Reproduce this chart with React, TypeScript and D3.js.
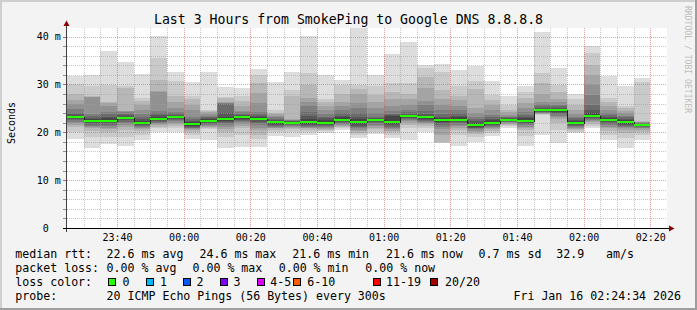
import React from "react";
import * as d3 from "d3";

// ---------- data ----------
const barStarts = [
  "23:25", "23:30", "23:35", "23:40", "23:45", "23:50", "23:55",
  "00:00", "00:05", "00:10", "00:15", "00:20", "00:25", "00:30",
  "00:35", "00:40", "00:45", "00:50", "00:55", "01:00", "01:05",
  "01:10", "01:15", "01:20", "01:25", "01:30", "01:35", "01:40",
  "01:45", "01:50", "01:55", "02:00", "02:05", "02:10", "02:15",
];

const medians = [
  23.2, 22.4, 22.4, 23.0, 22.0, 22.8, 23.2, 21.7, 22.4, 22.7, 23.1, 22.8,
  22.1, 22.0, 22.1, 22.0, 22.6, 22.1, 22.6, 22.1, 23.4, 23.1, 22.6, 22.6,
  21.6, 22.0, 22.6, 22.4, 24.6, 24.6, 22.0, 23.4, 22.6, 22.1, 21.6,
];

// 20 sorted ping RTTs (ms) per 5-minute step
const pings = [
  [18.5, 20.0, 21.2, 21.6, 21.9, 22.2, 22.5, 22.8, 23.0, 23.1, 23.3, 23.5, 23.8, 24.1, 24.9, 25.9, 26.8, 28.0, 30.1, 31.8],
  [16.8, 19.0, 20.2, 20.8, 21.1, 21.3, 21.6, 21.9, 22.1, 22.3, 22.5, 22.7, 23.0, 23.5, 23.8, 27.3, 27.4, 27.5, 29.7, 32.0],
  [17.5, 19.0, 20.0, 20.6, 21.0, 21.3, 21.6, 21.9, 22.1, 22.3, 22.6, 22.9, 23.3, 23.8, 24.3, 25.5, 26.1, 26.3, 29.9, 36.9],
  [17.1, 19.0, 20.4, 21.2, 21.6, 21.9, 22.2, 22.5, 22.7, 22.9, 23.1, 23.3, 23.6, 23.9, 24.2, 24.4, 24.5, 29.3, 29.7, 34.6],
  [18.4, 19.5, 20.2, 20.6, 20.9, 21.1, 21.3, 21.5, 21.7, 21.9, 22.1, 22.4, 22.8, 23.3, 23.8, 24.6, 25.7, 26.5, 27.2, 32.2],
  [20.1, 20.8, 21.2, 21.5, 21.7, 21.9, 22.1, 22.3, 22.5, 22.7, 22.9, 23.2, 23.6, 24.0, 24.5, 28.4, 28.6, 31.0, 35.6, 40.1],
  [20.1, 20.8, 21.3, 21.7, 22.0, 22.3, 22.5, 22.7, 22.9, 23.1, 23.3, 23.5, 23.7, 24.0, 24.3, 25.0, 26.4, 27.6, 30.8, 32.6],
  [18.6, 19.4, 20.0, 20.4, 20.6, 20.8, 21.0, 21.2, 21.4, 21.6, 21.8, 22.1, 22.4, 22.8, 23.3, 24.7, 25.7, 26.9, 27.6, 30.6],
  [18.4, 20.6, 20.9, 21.1, 21.3, 21.5, 21.7, 21.9, 22.1, 22.3, 22.5, 22.8, 23.0, 23.2, 23.5, 23.8, 24.2, 24.5, 24.6, 32.5],
  [16.8, 19.0, 20.1, 20.7, 21.2, 21.6, 22.0, 22.2, 22.4, 22.6, 22.8, 23.3, 24.0, 26.0, 26.1, 26.2, 26.4, 27.2, 27.4, 29.5],
  [17.0, 19.5, 20.8, 21.4, 21.8, 22.1, 22.4, 22.6, 22.8, 23.0, 23.2, 23.4, 23.6, 23.9, 24.2, 24.5, 25.5, 26.6, 27.6, 29.3],
  [17.0, 18.5, 19.4, 20.4, 21.0, 21.5, 21.9, 22.2, 22.5, 22.7, 22.9, 23.2, 23.5, 23.9, 24.3, 26.1, 28.2, 30.3, 32.0, 33.2],
  [19.3, 20.1, 20.5, 20.8, 21.0, 21.2, 21.4, 21.6, 21.8, 22.0, 22.2, 22.3, 22.5, 22.8, 23.1, 23.4, 23.8, 24.1, 24.6, 30.5],
  [19.1, 20.0, 20.6, 20.9, 21.1, 21.3, 21.5, 21.7, 21.8, 21.9, 22.1, 22.2, 22.3, 22.4, 22.5, 22.6, 22.8, 27.6, 28.8, 32.6],
  [19.4, 20.0, 20.5, 20.8, 21.0, 21.2, 21.4, 21.6, 21.8, 22.0, 22.3, 22.8, 23.4, 24.3, 25.4, 26.4, 27.2, 29.9, 32.3, 40.1],
  [19.8, 20.2, 20.5, 20.7, 20.9, 21.1, 21.3, 21.5, 21.7, 21.9, 22.2, 22.6, 22.9, 23.3, 23.8, 24.6, 25.4, 26.4, 26.9, 32.0],
  [20.4, 20.8, 21.1, 21.3, 21.5, 21.7, 21.9, 22.1, 22.3, 22.5, 22.7, 23.1, 23.5, 24.0, 24.6, 25.4, 26.4, 28.0, 29.9, 30.9],
  [18.9, 19.5, 19.9, 20.2, 20.5, 20.8, 21.1, 21.4, 21.7, 22.0, 22.3, 22.7, 23.2, 24.0, 25.0, 26.1, 28.0, 29.0, 29.9, 41.8],
  [19.6, 20.1, 20.6, 21.0, 21.3, 21.6, 21.9, 22.1, 22.3, 22.5, 22.7, 22.8, 23.0, 23.2, 24.0, 25.0, 26.4, 27.9, 29.6, 32.0],
  [18.8, 19.5, 20.0, 20.3, 20.6, 20.9, 21.2, 21.5, 21.7, 21.9, 22.3, 23.5, 23.7, 23.8, 24.5, 25.5, 27.0, 28.5, 30.4, 36.4],
  [18.4, 21.0, 21.6, 22.0, 22.3, 22.5, 22.7, 22.9, 23.1, 23.3, 23.5, 23.7, 23.9, 24.2, 24.7, 25.8, 26.9, 28.0, 30.4, 38.9],
  [20.0, 20.8, 21.4, 21.7, 22.0, 22.2, 22.4, 22.6, 22.8, 23.0, 23.2, 23.5, 23.9, 24.5, 25.7, 26.6, 29.2, 31.6, 33.4, 34.1],
  [17.7, 17.8, 18.0, 19.5, 20.6, 21.2, 21.6, 21.9, 22.2, 22.5, 22.7, 23.0, 23.3, 23.8, 24.6, 25.7, 27.0, 28.8, 32.7, 34.3],
  [17.2, 19.5, 20.5, 21.0, 21.3, 21.6, 21.9, 22.1, 22.3, 22.5, 22.7, 23.1, 23.5, 24.0, 24.6, 25.4, 26.8, 27.5, 29.7, 33.0],
  [18.0, 19.0, 19.6, 20.0, 20.3, 20.6, 20.8, 21.0, 21.2, 21.5, 21.7, 22.0, 22.3, 22.7, 23.2, 24.0, 25.0, 29.0, 30.8, 33.9],
  [19.2, 19.8, 20.3, 20.6, 20.9, 21.1, 21.3, 21.5, 21.7, 21.9, 22.1, 22.5, 22.8, 23.2, 23.6, 24.6, 25.7, 26.8, 27.9, 30.7],
  [21.0, 21.3, 21.6, 21.8, 22.0, 22.1, 22.2, 22.3, 22.4, 22.5, 22.7, 22.8, 22.9, 23.1, 23.3, 23.6, 24.2, 24.7, 25.8, 27.5],
  [17.1, 19.2, 20.4, 20.9, 21.2, 21.5, 21.7, 21.9, 22.1, 22.3, 22.5, 22.9, 23.2, 23.6, 24.2, 25.0, 26.1, 27.2, 28.5, 29.6],
  [19.4, 23.6, 23.8, 23.9, 24.0, 24.1, 24.2, 24.3, 24.4, 24.5, 24.7, 24.9, 25.1, 25.4, 25.9, 26.4, 28.0, 30.3, 32.4, 41.0],
  [17.7, 20.5, 22.0, 22.8, 23.2, 23.5, 23.8, 24.1, 24.3, 24.5, 24.7, 24.9, 25.1, 25.4, 25.8, 26.4, 27.0, 28.5, 29.9, 33.5],
  [19.8, 20.1, 20.4, 20.7, 20.9, 21.1, 21.3, 21.5, 21.7, 21.9, 22.1, 22.4, 22.6, 22.9, 23.2, 23.8, 24.6, 25.7, 27.0, 28.0],
  [21.0, 21.4, 21.8, 22.1, 22.3, 22.5, 22.7, 22.9, 23.1, 23.3, 23.6, 24.0, 24.6, 25.7, 27.9, 29.9, 32.0, 34.1, 36.6, 38.1],
  [18.3, 19.5, 20.3, 20.8, 21.2, 21.5, 21.8, 22.1, 22.3, 22.5, 22.7, 23.0, 23.3, 23.6, 24.0, 24.6, 25.4, 26.4, 27.1, 31.8],
  [16.8, 18.8, 19.8, 20.4, 20.8, 21.1, 21.4, 21.6, 21.8, 22.0, 22.3, 22.5, 22.8, 23.1, 23.5, 24.0, 24.5, 25.0, 25.5, 29.6],
  [18.4, 19.5, 20.1, 20.5, 20.8, 21.0, 21.2, 21.3, 21.4, 21.5, 21.6, 21.7, 21.8, 21.9, 22.0, 22.1, 22.2, 22.4, 30.6, 31.4],
];

const xTickLabels = ["23:40", "00:00", "00:20", "00:40", "01:00", "01:20", "01:40", "02:00", "02:20"];
const yTickValues = [0, 10, 20, 30, 40];
const yTickLabels = ["0  ", "10 m", "20 m", "30 m", "40 m"];

const lossLabels = ["0", "1", "2", "3", "4-5", "6-10", "11-19", "20/20"];
const lossColors = ["#26ff00", "#00b8ff", "#0059ff", "#7e00ff", "#dd00ff", "#ff5e00", "#ff0000", "#a00000"];

const titleText = "Last 3 Hours from SmokePing to Google DNS 8.8.8.8";
const rttLegend = ["median rtt:", "22.6 ms avg", "24.6 ms max", "21.6 ms min", "21.6 ms now", "0.7 ms sd", "32.9", "am/s"];
const lossLegend = ["packet loss:", "0.00 % avg", "0.00 % max", "0.00 % min", "0.00 % now"];
const probeLegend = ["probe:", "20 ICMP Echo Pings (56 Bytes) every 300s"];
const stampText = "Fri Jan 16 02:24:34 2026";

// ---------- layout ----------
const W = 697, H = 310;
const X0 = 67, X1 = 667, Y0 = 228, Y1 = 28;
const Y_MAX = 41.8;
const rttX = [16, 107.3, 200.2, 293, 386.7, 479.3, 557, 606.7];
const lossX = [16, 107.3, 193.2, 279.4, 366];
const boxX = [108.3, 145.7, 182.7, 219.7, 256.7, 293.3, 372.7, 430];
const boxLabelX = [123.3, 160.7, 197.3, 234.3, 271, 308, 386.7, 445.7];
const smokeGray = [221, 202, 183, 164, 145, 126, 107, 88, 69, 50];

function toDate(s: string): Date {
  const [h, m] = s.split(":").map(Number);
  return new Date(2026, 0, h >= 12 ? 15 : 16, h, m);
}

const FONT = "'DejaVu Sans Mono', monospace";

export default function App() {
  const tStart = new Date(2026, 0, 15, 23, 25);
  const tEnd = new Date(2026, 0, 16, 2, 25);
  const x = d3.scaleTime().domain([tStart, tEnd]).range([X0, X1]);
  const y = d3.scaleLinear().domain([0, Y_MAX]).range([Y0, Y1]);

  const starts = barStarts.map(toDate);
  const ends = starts.map((d) => d3.timeMinute.offset(d, 5));

  const minorV = d3.timeMinute.every(5)!.range(d3.timeMinute.offset(tStart, 5), tEnd)
    .filter((d) => d.getMinutes() % 20 !== 0);
  const majorV = d3.timeMinute.every(20)!.range(tStart, tEnd);

  const minorH = d3.range(2, 41, 2).filter((v) => v % 10 !== 0);
  const majorH = yTickValues.filter((v) => v > 0);

  const medianPts: [Date, number][] = starts.map((d, i) => [d, medians[i]]);
  medianPts.push([ends[ends.length - 1], medians[medians.length - 1]]);
  const stepLine = d3.line<[Date, number]>()
    .x((d) => Math.round(x(d[0])))
    .y((d) => Math.round(y(d[1])) + 0.5)
    .curve(d3.curveStepAfter);

  const px = (v: number) => Math.round(v);

  return (
    <svg width={W} height={H} style={{ position: "absolute", left: 0, top: 0, display: "block" }} fontFamily={FONT}>
      <rect x={0} y={0} width={W} height={H} fill="#f3f3f3" />
      {/* 3D frame */}
      <rect x={0} y={0} width={W} height={2} fill="#cfcfcf" />
      <rect x={0} y={0} width={2} height={H} fill="#cfcfcf" />
      <rect x={0} y={H - 2} width={W} height={2} fill="#9e9e9e" />
      <rect x={W - 2} y={0} width={2} height={H} fill="#9e9e9e" />

      {/* plot canvas */}
      <rect x={X0} y={Y1} width={X1 - X0} height={Y0 - Y1} fill="#ffffff" />

      {/* smoke */}
      <g shapeRendering="crispEdges">
        {pings.map((p, i) => {
          const xa = px(x(starts[i]));
          const xb = px(x(ends[i]));
          return smokeGray.map((g, k) => {
            const lo = p[k];
            const hi = p[p.length - 1 - k];
            const ya = px(y(hi));
            const yb = px(y(lo));
            if (yb <= ya) return null;
            const c = d3.rgb(g, g, g).formatHex();
            return <rect key={`s${i}-${k}`} x={xa} y={ya} width={xb - xa} height={yb - ya} fill={c} />;
          });
        })}
      </g>

      {/* grid */}
      <g strokeDasharray="1 1" strokeWidth={1} shapeRendering="crispEdges">
        {minorH.map((v) => (
          <line key={`mh${v}`} x1={X0} x2={X1} y1={px(y(v)) + 0.5} y2={px(y(v)) + 0.5} stroke="#a0a0a0" strokeOpacity={0.6} />
        ))}
        {minorV.map((d, i) => (
          <line key={`mv${i}`} x1={px(x(d)) + 0.5} x2={px(x(d)) + 0.5} y1={Y1} y2={Y0} stroke="#a0a0a0" strokeOpacity={0.6} />
        ))}
        {majorH.map((v) => (
          <line key={`Mh${v}`} x1={X0} x2={X1} y1={px(y(v)) + 0.5} y2={px(y(v)) + 0.5} stroke="#e05050" strokeOpacity={0.55} />
        ))}
        {majorV.map((d, i) => (
          <line key={`Mv${i}`} x1={px(x(d)) + 0.5} x2={px(x(d)) + 0.5} y1={Y1} y2={Y0} stroke="#e05050" strokeOpacity={0.55} />
        ))}
      </g>

      {/* median */}
      <path d={stepLine(medianPts) || ""} fill="none" stroke="#202020" strokeWidth={1} shapeRendering="crispEdges" />
      <g shapeRendering="crispEdges">
        {medians.map((m, i) => {
          const xa = px(x(starts[i]));
          const xb = px(x(ends[i]));
          const ym = px(y(m));
          return <rect key={`m${i}`} x={xa} y={ym - 1} width={xb - xa} height={2} fill={lossColors[0]} />;
        })}
      </g>

      {/* y ticks */}
      <g shapeRendering="crispEdges">
        {d3.range(0, 41, 2).map((v) => (
          <line key={`yt${v}`} x1={63} x2={66} y1={px(y(v)) + 0.5} y2={px(y(v)) + 0.5} stroke={v % 10 === 0 ? "#c06060" : "#909090"} />
        ))}
      </g>

      {/* axes */}
      <line x1={66.5} x2={66.5} y1={232} y2={25} stroke="#404040" strokeWidth={1} shapeRendering="crispEdges" />
      <line x1={63} x2={670} y1={228.5} y2={228.5} stroke="#000000" strokeWidth={1} shapeRendering="crispEdges" />
      <polygon points="63.5,26 66.5,20.5 69.5,26" fill="#8b0000" />
      <polygon points="669,225.5 674.5,228.5 669,231.5" fill="#8b0000" />

      {/* y labels */}
      <g fontSize={10} fill="#000" textAnchor="end">
        {yTickValues.map((v, i) => (
          <text key={`yl${v}`} x={60.8} y={y(v) + 3.6} xmlSpace="preserve" style={{ whiteSpace: "pre" }}>
            {yTickLabels[i]}
          </text>
        ))}
      </g>

      {/* x labels */}
      <g fontSize={10} fill="#000" textAnchor="middle">
        {majorV.map((d, i) => (
          <text key={`xl${i}`} x={x(d) + 0.5} y={241}>
            {xTickLabels[i]}
          </text>
        ))}
      </g>

      {/* title */}
      <text x={W / 2} y={24} fontSize={13.2} textAnchor="middle" fill="#000">{titleText}</text>

      {/* y axis title */}
      <text transform="translate(14.5,123) rotate(-90)" fontSize={10} textAnchor="middle" fill="#000">Seconds</text>

      {/* watermark */}
      <text transform="translate(684.5,6) rotate(90)" fontSize={8.1} fill="#bdbdbd">RRDTOOL / TOBI OETIKER</text>

      {/* legend */}
      <g fontSize={11.6} fill="#000" xmlSpace="preserve" style={{ whiteSpace: "pre" }}>
        {rttLegend.map((t, i) => (
          <text key={`r${i}`} x={rttX[i] - 0.7} y={257.7}>{t}</text>
        ))}
        {lossLegend.map((t, i) => (
          <text key={`l${i}`} x={lossX[i] - 0.7} y={271.7}>{t}</text>
        ))}
        <text x={16 - 0.7} y={285.7}>loss color:</text>
        {lossLabels.map((t, i) => (
          <g key={`lc${i}`}>
            <rect x={Math.round(boxX[i]) + 0.5} y={278.5} width={7} height={7} fill={lossColors[i]} stroke="#000" strokeWidth={1} shapeRendering="crispEdges" />
            <text x={boxLabelX[i] - 0.7} y={285.7}>{t}</text>
          </g>
        ))}
        <text x={16 - 0.7} y={299.7}>{probeLegend[0]}</text>
        <text x={107.3 - 0.7} y={299.7}>{probeLegend[1]}</text>
        <text x={681} y={299.7} textAnchor="end">{stampText}</text>
      </g>
    </svg>
  );
}
